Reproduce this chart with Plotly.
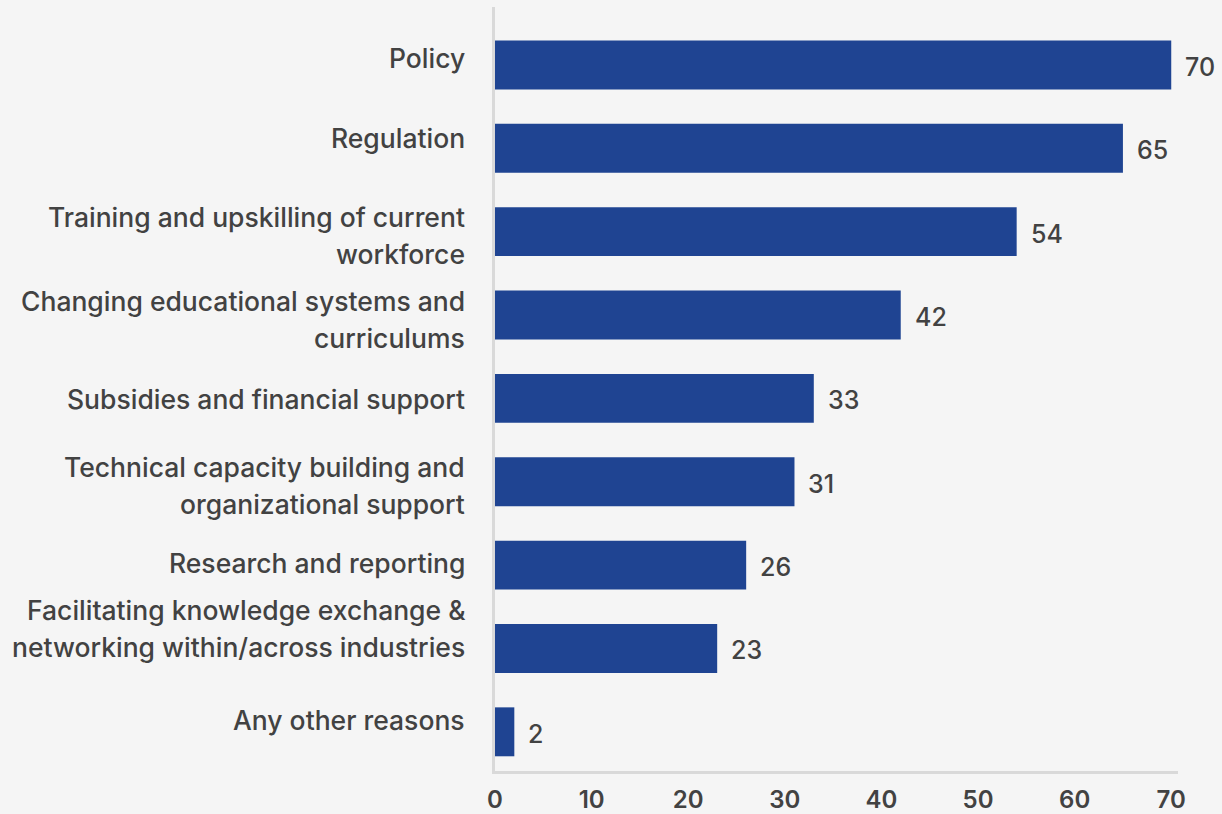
import plotly.graph_objects as go

# Survey answers, top to bottom
categories = [
    "Policy",
    "Regulation",
    "Training and upskilling of current<br>workforce",
    "Changing educational systems and<br>curriculums",
    "Subsidies and financial support",
    "Technical capacity building and<br>organizational support",
    "Research and reporting",
    "Facilitating knowledge exchange &<br>networking within/across industries",
    "Any other reasons",
]
values = [70, 65, 54, 42, 33, 31, 26, 23, 2]
x_ticks = [0, 10, 20, 30, 40, 50, 60, 70]

# small vertical nudges (px) for the category labels
label_shift = [7, 10, -4, -4, -1, -4, 2, 20, 12]
LINE_GAP = 37  # px between the two lines of a wrapped label

BAR = "#1F4492"
TEXT = "#424242"
BG = "#F5F5F5"
AXIS = "#D9D9D9"
FONT = "Inter"
FS = 26.5

positions = list(range(len(categories)))

fig = go.Figure(
    go.Bar(
        x=values,
        y=positions,
        orientation="h",
        marker=dict(color=BAR, line=dict(width=0)),
        width=0.587,
        hoverinfo="skip",
    )
)

annotations = []
for i, (lab, v, dy) in enumerate(zip(categories, values, label_shift)):
    lines = lab.split("<br>")
    n = len(lines)
    for k, line in enumerate(lines):
        offset = ((n - 1) / 2 - k) * LINE_GAP
        annotations.append(dict(
            x=0, xref="paper", y=i, yref="y",
            text=line, showarrow=False,
            xanchor="right", yanchor="middle", align="right",
            xshift=-28, yshift=dy + offset,
            font=dict(family=FONT, size=FS, color=TEXT, weight=500),
        ))
    annotations.append(dict(
        x=v, xref="x", y=i, yref="y",
        text=str(v), showarrow=False,
        xanchor="left", yanchor="middle",
        xshift=12, yshift=-2,
        font=dict(family=FONT, size=25, color=TEXT, weight=500),
    ))

fig.update_layout(
    width=1222,
    height=814,
    paper_bgcolor=BG,
    plot_bgcolor=BG,
    margin=dict(l=495, r=44, t=7, b=43, autoexpand=False),
    showlegend=False,
    annotations=annotations,
    xaxis=dict(
        range=[0, 70.7],
        tickvals=x_ticks,
        ticktext=[str(t) for t in x_ticks],
        showgrid=False,
        zeroline=False,
        showline=True,
        linecolor=AXIS,
        linewidth=3,
        ticks="",
        automargin=False,
        ticklabelstandoff=5,
        tickfont=dict(family=FONT, size=24, color=TEXT, weight=600),
    ),
    yaxis=dict(
        range=[8.47, -0.695],
        showticklabels=False,
        showgrid=False,
        zeroline=False,
        showline=True,
        linecolor=AXIS,
        linewidth=3,
        ticks="",
        automargin=False,
    ),
)

fig.write_html("out.html")
